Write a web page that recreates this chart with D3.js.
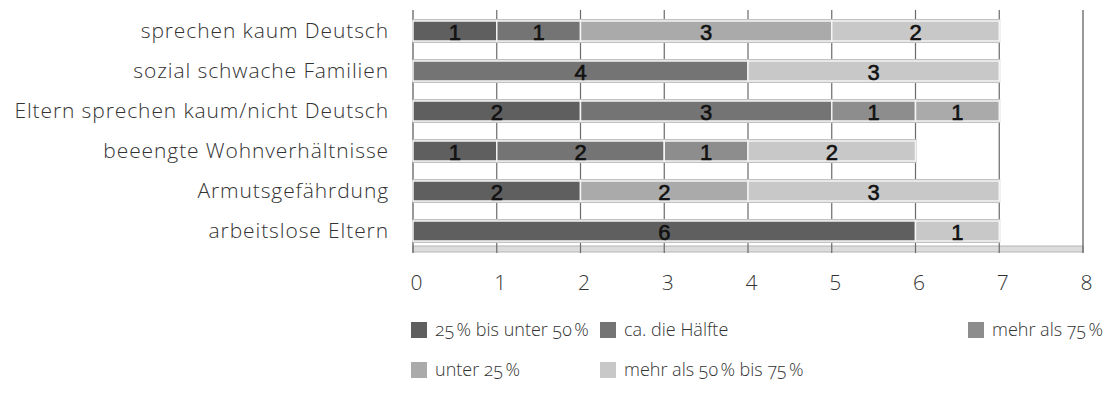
<!DOCTYPE html>
<html>
<head>
<meta charset="utf-8">
<script src="https://cdn.jsdelivr.net/npm/d3@7"></script>
<style>
  body { margin: 0; background: #fff; }
  svg text { font-family: "Open Sans", sans-serif; }
</style>
</head>
<body>
<svg id="chart" width="1108" height="417"></svg>
<script>
// categories, top to bottom
var categories = [
    "sprechen kaum Deutsch",
    "sozial schwache Familien",
    "Eltern sprechen kaum/nicht Deutsch",
    "beeengte Wohnverhältnisse",
    "Armutsgefährdung",
    "arbeitslose Eltern"
];

// series names (stack order), narrow space before %
var seriesNames = [
    "25\u202F% bis unter 50\u202F%",
    "ca. die Hälfte",
    "mehr als 75\u202F%",
    "unter 25\u202F%",
    "mehr als 50\u202F% bis 75\u202F%"
];

// counts per series, in category order
var s25to50   = [1, 0, 2, 1, 2, 6];
var sHalf     = [1, 4, 3, 2, 0, 0];
var sOver75   = [0, 0, 1, 1, 0, 0];
var sUnder25  = [3, 0, 1, 0, 2, 0];
var s50to75   = [2, 3, 0, 2, 3, 1];

var tickValues = [0, 1, 2, 3, 4, 5, 6, 7, 8];

var greys = ["#5f5f5f", "#747474", "#8d8d8d", "#aaaaaa", "#c8c8c8"];

// build rows for d3.stack
var seriesData = [s25to50, sHalf, sOver75, sUnder25, s50to75];
var rows = categories.map(function (c, i) {
    var r = { cat: c };
    seriesNames.forEach(function (s, j) { r[s] = seriesData[j][i]; });
    return r;
});

var svg = d3.select("#chart");

var x = d3.scaleLinear().domain([0, 8]).range([413, 1083]);
var y = d3.scaleBand().domain(categories).range([11, 251])
    .paddingInner(0.5).paddingOuter(0.25);

var colour = d3.scaleOrdinal().domain(seriesNames).range(greys);

// light axis band at the bottom
svg.append("rect")
    .attr("x", x(0)).attr("y", 246)
    .attr("width", x(8) - x(0)).attr("height", 6)
    .attr("fill", "#dcdcdc").attr("stroke", "#b5b5b5").attr("stroke-width", 1);

// gridlines
svg.append("g").selectAll("line")
    .data(tickValues)
    .enter().append("line")
    .attr("x1", function (d) { return x(d); })
    .attr("x2", function (d) { return x(d); })
    .attr("y1", 10).attr("y2", 253)
    .attr("stroke", function (d) { return (d === 0 || d === 8) ? "#555" : "#6a6a6a"; })
    .attr("stroke-width", 1.2);

// bar outlines (greyish shadow round every bar)
svg.append("g").selectAll("rect")
    .data(rows)
    .enter().append("rect")
    .attr("x", x(0))
    .attr("y", function (d) { return y(d.cat) - 2; })
    .attr("width", function (d) {
        return x(d3.sum(seriesNames, function (s) { return d[s]; })) - x(0) + 1;
    })
    .attr("height", y.bandwidth() + 4)
    .attr("fill", "#c2c2c2");

var stack = d3.stack().keys(seriesNames);
var layers = stack(rows);

var layer = svg.append("g").selectAll("g")
    .data(layers)
    .enter().append("g")
    .attr("fill", function (d) { return colour(d.key); });

layer.selectAll("rect")
    .data(function (d) { return d.filter(function (p) { return p[1] > p[0]; }); })
    .enter().append("rect")
    .attr("x", function (d) { return x(d[0]); })
    .attr("y", function (d) { return y(d.data.cat); })
    .attr("width", function (d) { return x(d[1]) - x(d[0]); })
    .attr("height", y.bandwidth())
    .attr("stroke", "#f4f4f4")
    .attr("stroke-width", 1.5);

// value labels
layer.selectAll("text")
    .data(function (d) { return d.filter(function (p) { return p[1] > p[0]; }); })
    .enter().append("text")
    .attr("x", function (d) { return x((d[0] + d[1]) / 2); })
    .attr("y", function (d) { return y(d.data.cat) + y.bandwidth() / 2 + 9; })
    .attr("text-anchor", "middle")
    .attr("fill", "#111")
    .attr("stroke", "#111")
    .attr("stroke-width", 0.6)
    .attr("font-size", "22px")
    .style("font-family", "'Liberation Sans', Arial, sans-serif")
    .text(function (d) { return d[1] - d[0]; });

// category labels
svg.append("g").selectAll("text")
    .data(categories)
    .enter().append("text")
    .attr("x", 389)
    .attr("y", function (d) { return y(d) + y.bandwidth() / 2; })
    .attr("dy", "0.35em")
    .attr("text-anchor", "end")
    .attr("fill", "#333")
    .attr("font-size", "21px")
    .attr("font-weight", 300)
    .style("letter-spacing", "0.9px")
    .text(function (d) { return d; });

// x axis labels
var xAxis = svg.append("g")
    .attr("transform", "translate(3,272)")
    .call(d3.axisBottom(x).tickValues(tickValues).tickSize(0).tickFormat(d3.format("d")));
xAxis.select(".domain").remove();
xAxis.selectAll("text")
    .attr("fill", "#333")
    .attr("font-size", "21px")
    .attr("font-weight", 300)
    .style("font-family", "'Open Sans', sans-serif");

// legend
var legendPos = [
    { x: 411, y: 330 }, { x: 600, y: 330 }, { x: 968, y: 330 },
    { x: 411, y: 370 }, { x: 600, y: 370 }
];

var legend = svg.append("g").selectAll("g")
    .data(seriesNames)
    .enter().append("g")
    .attr("transform", function (d, i) {
        return "translate(" + legendPos[i].x + "," + legendPos[i].y + ")";
    });

legend.append("rect")
    .attr("x", 0).attr("y", -8)
    .attr("width", 16).attr("height", 16)
    .attr("fill", function (d) { return colour(d); });

legend.append("text")
    .attr("x", 24)
    .attr("dy", "0.35em")
    .attr("fill", "#333")
    .attr("font-size", "18px")
    .attr("font-weight", 300)
    .style("font-variant-numeric", "oldstyle-nums")
    .text(function (d) { return d; });
</script>
</body>
</html>
